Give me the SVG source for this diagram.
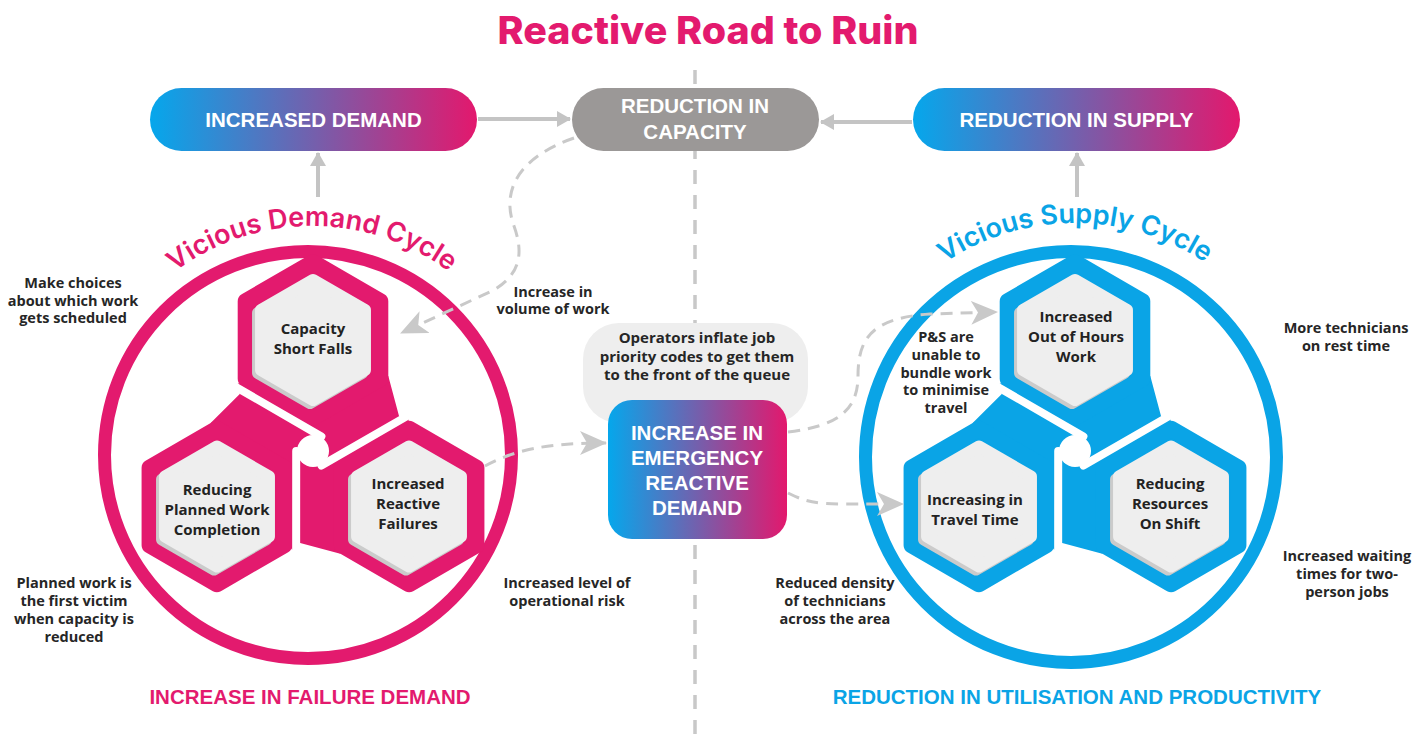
<svg xmlns="http://www.w3.org/2000/svg" xmlns:xlink="http://www.w3.org/1999/xlink" width="1424" height="734" viewBox="0 0 1424 734">
  <style>
    .title { font-family: Inter, "Noto Sans", sans-serif; font-weight: 800; font-size: 38px; fill: #e31a6e; }
    .pill-t { font-family: "Liberation Sans", Arial, sans-serif; font-weight: 700; font-size: 20.5px; fill: #ffffff; text-anchor: middle; }
    .foot { font-family: "Liberation Sans", Arial, sans-serif; font-weight: 700; font-size: 20.5px; text-anchor: middle; }
    .note { font-family: "Open Sans", "Noto Sans", sans-serif; font-weight: 700; font-size: 14.5px; fill: #262626; text-anchor: middle; }
    .hex-t { font-family: "Open Sans", "Noto Sans", sans-serif; font-weight: 700; font-size: 15px; fill: #222222; text-anchor: middle; }
    .arc { font-family: Inter, "Noto Sans", sans-serif; font-weight: 600; font-size: 27px; }
    .pink { fill: #e31a6e; }
    .blue { fill: #0aa4e6; }
    .solid { fill: none; stroke: #c4c4c4; stroke-width: 4; }
    .dash { fill: none; stroke: #c9c9c9; stroke-width: 3; stroke-dasharray: 12 8; }
    .in-shadow { fill: #cbcbcb; stroke: #cbcbcb; stroke-width: 12; stroke-linejoin: round; }
    .in-face { fill: #eeeeee; stroke: #eeeeee; stroke-width: 12; stroke-linejoin: round; }
  </style>
  <defs>
    <linearGradient id="grad" x1="0" y1="0" x2="1" y2="0">
      <stop offset="0" stop-color="#05a7ec"/>
      <stop offset="1" stop-color="#e3186d"/>
    </linearGradient>
    <marker id="headSolid" markerUnits="userSpaceOnUse" markerWidth="14" markerHeight="16" refX="13" refY="8" orient="auto">
      <path d="M0,0 L14,8 L0,16 Z" fill="#c4c4c4"/>
    </marker>
    <marker id="headDash" markerUnits="userSpaceOnUse" markerWidth="27" markerHeight="24" refX="26" refY="12" orient="auto">
      <path d="M0,0 L27,12 L0,24 L7,12 Z" fill="#c9c9c9"/>
    </marker>
    <!-- hexagon shapes, pointy top -->
    <polygon id="hexOut" points="0,-77.7 67.3,-38.85 67.3,38.85 0,77.7 -67.3,38.85 -67.3,-38.85"/>
    <polygon id="hexIn" points="0,-60 51.96,-30 51.96,30 0,60 -51.96,30 -51.96,-30"/>
    <!-- three-hex trefoil with clockwise arms, centred on the origin -->
    <g id="trefoil">
      <polygon points="75.3,-75 86,-34.9 96.1,-31.5 27.3,102.7 -12.8,91.9 -20.8,99 -102.6,-27.7 -73.2,-57 -75.3,-67.5" fill="currentColor"/>
      <use xlink:href="#hexOut" transform="translate(0,-111)" fill="currentColor" stroke="currentColor" stroke-width="16" stroke-linejoin="round"/>
      <use xlink:href="#hexOut" transform="rotate(120) translate(0,-111)" fill="currentColor" stroke="currentColor" stroke-width="16" stroke-linejoin="round"/>
      <use xlink:href="#hexOut" transform="rotate(240) translate(0,-111)" fill="currentColor" stroke="currentColor" stroke-width="16" stroke-linejoin="round"/>
      <line x1="8.4" y1="14.55" x2="104" y2="-40.6" stroke="#ffffff" stroke-width="8" stroke-linecap="round"/>
      <line x1="8.4" y1="14.55" x2="104" y2="-40.6" stroke="#ffffff" stroke-width="8" stroke-linecap="round" transform="rotate(120)"/>
      <line x1="8.4" y1="14.55" x2="104" y2="-40.6" stroke="#ffffff" stroke-width="8" stroke-linecap="round" transform="rotate(240)"/>
      <circle r="16" fill="#ffffff"/>
    </g>
    <path id="arcL" d="M 84 454 A 228 228 0 0 1 540 454"/>
    <path id="arcR" d="M 841 457 A 234 234 0 0 1 1309 457"/>
  </defs>

  <rect width="1424" height="734" fill="#ffffff"/>

  <!-- centre divider -->
  <line x1="695" y1="70" x2="695" y2="734" stroke="#c8c8c8" stroke-width="3.5" stroke-dasharray="14 11"/>

  <text class="title" x="708" y="44" text-anchor="middle" textLength="421" lengthAdjust="spacingAndGlyphs">Reactive Road to Ruin</text>

  <!-- top row -->
  <g id="increased-demand">
    <rect x="150" y="88" width="327" height="63" rx="31.5" fill="url(#grad)"/>
    <text class="pill-t" x="313.5" y="126.5">INCREASED DEMAND</text>
  </g>
  <g id="reduction-in-capacity">
    <rect x="572" y="88" width="247" height="63" rx="31.5" fill="#9b9897"/>
    <text class="pill-t" x="695" y="113">REDUCTION IN</text>
    <text class="pill-t" x="695" y="139">CAPACITY</text>
  </g>
  <g id="reduction-in-supply">
    <rect x="913" y="88" width="327" height="63" rx="31.5" fill="url(#grad)"/>
    <text class="pill-t" x="1076.5" y="126.5">REDUCTION IN SUPPLY</text>
  </g>

  <!-- demand cycle -->
  <g id="demand-cycle">
    <circle cx="308" cy="455" r="203.5" fill="none" stroke="#e31a6e" stroke-width="13"/>
    <text class="arc pink"><textPath xlink:href="#arcL" startOffset="50%" text-anchor="middle">Vicious Demand Cycle</textPath></text>
    <use xlink:href="#trefoil" transform="translate(313,451)" style="color:#e31a6e"/>
  </g>
  <g id="capacity-short-falls">
    <use xlink:href="#hexIn" class="in-shadow" transform="translate(310,343)"/>
    <use xlink:href="#hexIn" class="in-face" transform="translate(313,340)"/>
    <text class="hex-t" x="313" y="334">Capacity</text>
    <text class="hex-t" x="313" y="354">Short Falls</text>
  </g>
  <g id="reducing-planned-work">
    <use xlink:href="#hexIn" class="in-shadow" transform="translate(214,509.5)"/>
    <use xlink:href="#hexIn" class="in-face" transform="translate(217,506.5)"/>
    <text class="hex-t" x="217" y="495">Reducing</text>
    <text class="hex-t" x="217" y="515">Planned Work</text>
    <text class="hex-t" x="217" y="535">Completion</text>
  </g>
  <g id="increased-reactive-failures">
    <use xlink:href="#hexIn" class="in-shadow" transform="translate(406,509.5)"/>
    <use xlink:href="#hexIn" class="in-face" transform="translate(409,506.5)"/>
    <text class="hex-t" x="408" y="489">Increased</text>
    <text class="hex-t" x="408" y="509">Reactive</text>
    <text class="hex-t" x="408" y="529">Failures</text>
  </g>

  <!-- supply cycle -->
  <g id="supply-cycle">
    <circle cx="1071" cy="457" r="205.5" fill="none" stroke="#0aa4e6" stroke-width="13"/>
    <text class="arc blue"><textPath xlink:href="#arcR" startOffset="50%" text-anchor="middle">Vicious Supply Cycle</textPath></text>
    <use xlink:href="#trefoil" transform="translate(1075,451)" style="color:#0aa4e6"/>
  </g>
  <g id="out-of-hours-work">
    <use xlink:href="#hexIn" class="in-shadow" transform="translate(1072,343)"/>
    <use xlink:href="#hexIn" class="in-face" transform="translate(1075,340)"/>
    <text class="hex-t" x="1076" y="322">Increased</text>
    <text class="hex-t" x="1076" y="342">Out of Hours</text>
    <text class="hex-t" x="1076" y="362">Work</text>
  </g>
  <g id="travel-time">
    <use xlink:href="#hexIn" class="in-shadow" transform="translate(976,509.5)"/>
    <use xlink:href="#hexIn" class="in-face" transform="translate(979,506.5)"/>
    <text class="hex-t" x="975" y="505">Increasing in</text>
    <text class="hex-t" x="975" y="525">Travel Time</text>
  </g>
  <g id="resources-on-shift">
    <use xlink:href="#hexIn" class="in-shadow" transform="translate(1168,509.5)"/>
    <use xlink:href="#hexIn" class="in-face" transform="translate(1171,506.5)"/>
    <text class="hex-t" x="1170" y="489">Reducing</text>
    <text class="hex-t" x="1170" y="509">Resources</text>
    <text class="hex-t" x="1170" y="529">On Shift</text>
  </g>

  <!-- centre: operator note and emergency demand -->
  <g id="operators-note">
    <rect x="583" y="323" width="225" height="100" rx="36" fill="#eeeeee"/>
    <text class="note" x="697" y="343" style="font-size:15px">Operators inflate job</text>
    <text class="note" x="697" y="362" style="font-size:15px">priority codes to get them</text>
    <text class="note" x="697" y="380" style="font-size:15px">to the front of the queue</text>
  </g>
  <g id="emergency-reactive-demand">
    <rect x="608" y="400" width="179" height="139" rx="24" fill="url(#grad)"/>
    <text class="pill-t" x="697" y="440">INCREASE IN</text>
    <text class="pill-t" x="697" y="465">EMERGENCY</text>
    <text class="pill-t" x="697" y="490">REACTIVE</text>
    <text class="pill-t" x="697" y="515">DEMAND</text>
  </g>

  <!-- connectors -->
  <g id="connectors">
    <path class="solid" d="M 478 119 L 570 119" marker-end="url(#headSolid)"/>
    <path class="solid" d="M 912 122 L 821 122" marker-end="url(#headSolid)"/>
    <path class="solid" d="M 318 197 L 318 153" marker-end="url(#headSolid)"/>
    <path class="solid" d="M 1077 197 L 1077 153" marker-end="url(#headSolid)"/>
    <path class="dash" d="M 574 138 C 522 156 500 188 514 226 C 524 254 520 274 494 290 L 401 333" marker-end="url(#headDash)"/>
    <path class="dash" d="M 485 466 C 515 450 545 443 606 443" marker-end="url(#headDash)"/>
    <path class="dash" d="M 788 432 C 838 426 858 410 858 376 C 858 338 872 318 930 314 L 997 312" marker-end="url(#headDash)"/>
    <path class="dash" d="M 788 493 C 806 502 816 504 842 504 L 903 504" marker-end="url(#headDash)"/>
  </g>

  <!-- annotations -->
  <g id="annotations">
    <text class="note" x="73" y="288">Make choices</text>
    <text class="note" x="73" y="306">about which work</text>
    <text class="note" x="73" y="323">gets scheduled</text>

    <text class="note" x="74" y="588">Planned work is</text>
    <text class="note" x="74" y="606">the first victim</text>
    <text class="note" x="74" y="624">when capacity is</text>
    <text class="note" x="74" y="642">reduced</text>

    <text class="note" x="553" y="297">Increase in</text>
    <text class="note" x="553" y="314">volume of work</text>

    <text class="note" x="567" y="588">Increased level of</text>
    <text class="note" x="567" y="606">operational risk</text>

    <text class="note" x="946" y="342">P&amp;S are</text>
    <text class="note" x="946" y="360">unable to</text>
    <text class="note" x="946" y="378">bundle work</text>
    <text class="note" x="946" y="395">to minimise</text>
    <text class="note" x="946" y="413">travel</text>

    <text class="note" x="1346" y="333">More technicians</text>
    <text class="note" x="1346" y="351">on rest time</text>

    <text class="note" x="835" y="588">Reduced density</text>
    <text class="note" x="835" y="606">of technicians</text>
    <text class="note" x="835" y="624">across the area</text>

    <text class="note" x="1347" y="561">Increased waiting</text>
    <text class="note" x="1347" y="579">times for two-</text>
    <text class="note" x="1347" y="597">person jobs</text>
  </g>

  <!-- outcome labels -->
  <text class="foot pink" x="310" y="704">INCREASE IN FAILURE DEMAND</text>
  <text class="foot blue" x="1077" y="704">REDUCTION IN UTILISATION AND PRODUCTIVITY</text>
</svg>
